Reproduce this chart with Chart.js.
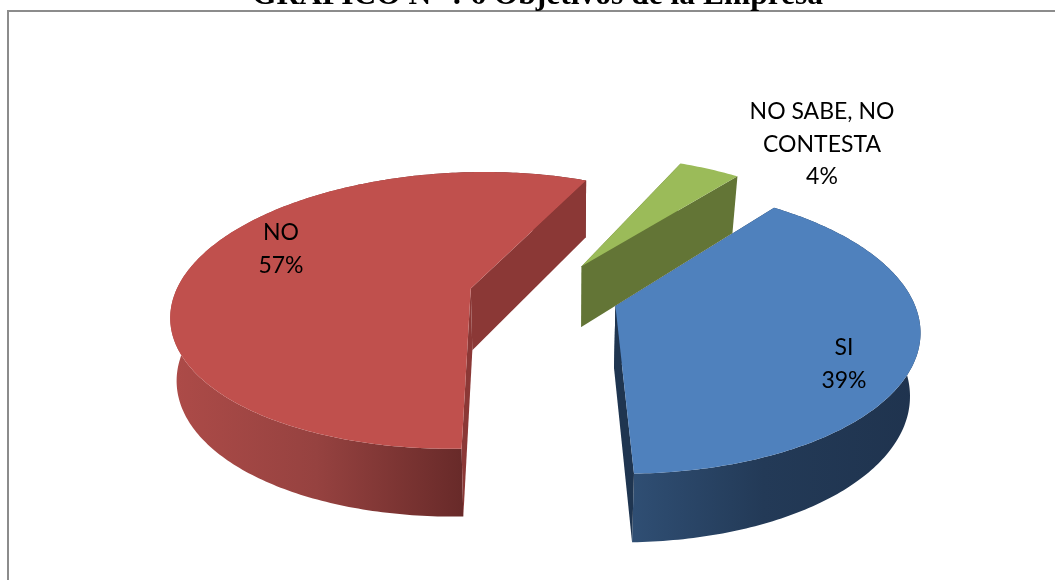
<!DOCTYPE html>
<html>
<head>
<meta charset="utf-8">
<style>
  html, body { margin: 0; padding: 0; background: #fff; overflow: hidden; }
  canvas { display: block; }
</style>
<script src="https://cdn.jsdelivr.net/npm/chart.js@4/dist/chart.umd.min.js"></script>
</head>
<body>
<canvas id="pie" width="1055" height="580"></canvas>
<script>
const categories = [["SI"], ["NO"], ["NO SABE, NO", "CONTESTA"]];
const percentages = [39, 57, 4];
const explodeOffsets = [75, 75, 75];
const chartTitle = "GRÁFICO N° : 6 Objetivos de la Empresa";

const topColors = ["#4f81bd", "#c0504d", "#9bbb59"];
const wallColors = ["#1f3550", "#8b3836", "#637536"];
const rimStops = [
  [[0, "#2f4e73"], [0.45, "#233a57"], [1, "#1f334e"]],
  [[0, "#ad4b48"], [0.5, "#964240"], [1, "#682a29"]],
  [[0, "#637536"], [1, "#637536"]],
];

// perspective of the pie plane: R/S are the radii, p the foreshortening
const view = { cx: 543.6, cy: 295, R: 296, S: 137, p: 0.16, vp: 571, depth: 62 };
const labelCentres = [[844, 348], [281, 233], [822, 112]];
const labelLineHeight = 32.5;

// unit-circle coords on the plane -> screen, optionally on the lower face
function project(x, z, lower) {
  const w = 1 - view.p * z;
  let px = view.vp + (view.cx - view.vp + view.R * x) / w;
  let py = view.cy + view.S * z / w;
  if (lower) {
    py += view.depth / (1 - 0.09 * z);
    // the sides lean inwards a little, slightly more on the right
    px += (570 - px) * (px < 570 ? 0.016 : 0.03);
  }
  return [px, py];
}

function tracePoly(ctx, pts) {
  ctx.beginPath();
  pts.forEach((p, i) => (i ? ctx.lineTo(p[0], p[1]) : ctx.moveTo(p[0], p[1])));
  ctx.closePath();
}

function drawSlice(ctx, arc, i) {
  const { startAngle, endAngle } = arc.getProps(["startAngle", "endAngle"], true);
  const mid = (startAngle + endAngle) / 2;
  const e = arc.options.offset / view.R;
  const ox = e * Math.cos(mid);
  const oz = e * Math.sin(mid);

  const rimAngles = [];
  const n = Math.ceil((endAngle - startAngle) / 0.015);
  for (let k = 0; k <= n; k++) rimAngles.push(startAngle + (endAngle - startAngle) * k / n);

  const at = (a, lower) => project(ox + Math.cos(a), oz + Math.sin(a), lower);
  const apexTop = project(ox, oz, false);
  const apexLow = project(ox, oz, true);
  const rimTop = rimAngles.map((a) => at(a, false));
  const rimLow = rimAngles.map((a) => at(a, true));

  // curved rim first, then the radial walls, then the top face
  const xs = rimTop.map((p) => p[0]).filter((_, k) => Math.sin(rimAngles[k]) > -0.1);
  if (xs.length) {
    const x0 = Math.min(...xs), x1 = Math.max(...xs);
    const grad = ctx.createLinearGradient(x0, 0, x1 + 1, 0);
    rimStops[i].forEach(([t, c]) => grad.addColorStop(t, c));
    ctx.fillStyle = grad;
    tracePoly(ctx, rimTop.concat(rimLow.slice().reverse()));
    ctx.fill();
  }

  ctx.fillStyle = wallColors[i];
  tracePoly(ctx, [apexTop, rimTop[0], rimLow[0], apexLow]);
  ctx.fill();
  tracePoly(ctx, [apexTop, rimTop[n], rimLow[n], apexLow]);
  ctx.fill();

  ctx.fillStyle = topColors[i];
  tracePoly(ctx, [apexTop].concat(rimTop));
  ctx.fill();
}

const pie3d = {
  id: "pie3d",
  beforeDraw(chart) {
    const { ctx } = chart;
    ctx.save();
    ctx.strokeStyle = "#8c8c8c";
    ctx.lineWidth = 2;
    ctx.beginPath();
    ctx.moveTo(8, 580);
    ctx.lineTo(8, 11);
    ctx.lineTo(1055, 11);
    ctx.stroke();
    ctx.restore();
  },
  beforeDatasetDraw(chart, args) {
    const { ctx } = chart;
    const arcs = args.meta.data;
    ctx.save();
    // back to front: green, red, blue
    [2, 1, 0].forEach((i) => drawSlice(ctx, arcs[i], i));
    ctx.restore();
    return false;
  },
  afterDatasetsDraw(chart) {
    const { ctx } = chart;
    ctx.save();
    ctx.fillStyle = "#000";
    ctx.font = '23px Lato, "Open Sans", sans-serif';
    ctx.textAlign = "center";
    ctx.textBaseline = "middle";
    categories.forEach((lines, i) => {
      const [x, y] = labelCentres[i];
      lines.concat(`${percentages[i]}%`).forEach((line, k) => {
        ctx.fillText(line, x, y + k * labelLineHeight);
      });
    });
    ctx.restore();
  },
};

new Chart(document.getElementById("pie"), {
  type: "pie",
  data: {
    labels: categories,
    datasets: [{
      data: percentages,
      backgroundColor: topColors,
      offset: explodeOffsets,
      borderWidth: 0,
    }],
  },
  options: {
    responsive: false,
    animation: false,
    rotation: 38,
    layout: { padding: { left: 20 } },
    plugins: {
      legend: { display: false },
      tooltip: { enabled: false },
      title: {
        display: true,
        text: chartTitle,
        color: "#000",
        font: { family: '"Liberation Serif", serif', size: 31.5, weight: "bold" },
        padding: { top: -23.5, bottom: 23.5 },
      },
    },
  },
  plugins: [pie3d],
});
</script>
</body>
</html>
